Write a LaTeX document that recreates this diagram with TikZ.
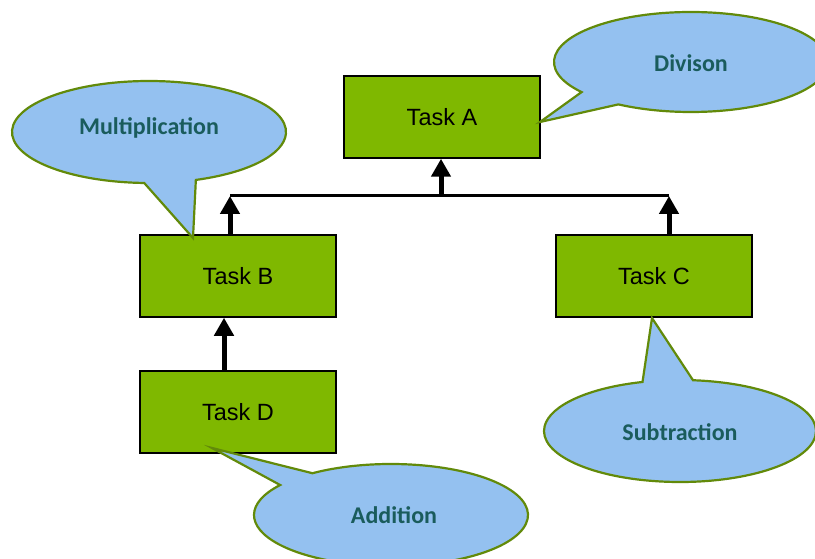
\documentclass[tikz,border=0pt]{standalone}
\usepackage{fontspec}
\setmainfont{Liberation Sans}
\newfontfamily\calibri{Carlito}
\usetikzlibrary{arrows.meta,calc}
\definecolor{boxgreen}{RGB}{127,184,0}
\definecolor{bubblefill}{RGB}{148,193,240}
\definecolor{bubbleline}{RGB}{98,138,10}
\definecolor{bubbletext}{RGB}{26,92,92}
\begin{document}
\begin{tikzpicture}[x=1pt,y=-1pt,
  task/.style={draw=black,line width=1.5pt,fill=boxgreen,minimum width=196pt,minimum height=82pt,inner sep=0pt,font=\fontsize{23.5}{27}\selectfont},
  bubble/.style={draw=bubbleline,line width=2.2pt,fill=bubblefill,line join=miter},
  btext/.style={text=bubbletext,font=\calibri\bfseries\fontsize{24}{28}\selectfont,inner sep=0pt},
  arr/.style={line width=5pt,-{Triangle[width=19pt,length=18pt]}},
  barline/.style={line width=3pt}]
\useasboundingbox (0,0) rectangle (815,559);
\clip (0,0) rectangle (815,559);
% boxes
\node[task] (A) at (442,117) {Task A};
\node[task] (B) at (238,276) {Task B};
\node[task] (C) at (654,276) {Task C};
\node[task] (D) at (238,412) {Task D};
% connectors
\coordinate (barL) at (230,196);
\coordinate (barR) at (669,196);
\coordinate (barM) at (441,196);
\draw[barline] (barL) -- (barR);
\draw[arr] (B.north -| barL) -- (barL);
\draw[arr] (C.north -| barR) -- (barR);
\draw[arr] (barM) -- (A.south -| barM);
\draw[arr] ([xshift=-14pt]D.north) -- ([xshift=-14pt]B.south);
% bubbles
\coordinate (mc) at (149,132);
\coordinate (dc) at (691,62);
\coordinate (sc) at (680,431);
\coordinate (ac) at (391,515);
\coordinate (mtip) at (193,238);
\coordinate (dtip) at (540,122);
\coordinate (stip) at (652,318);
\coordinate (atip) at (212,448);
\path[bubble] ($(mc)+(92:137 and 51)$) arc[start angle=92,end angle=430,x radius=137,y radius=51] -- (mtip) -- cycle;
\path[bubble] ($(dc)+(143:137 and 50)$) arc[start angle=143,end angle=482,x radius=137,y radius=50] -- (dtip) -- cycle;
\path[bubble] ($(sc)+(275.5:136 and 51)$) arc[start angle=275.5,end angle=614,x radius=136,y radius=51] -- (stip) -- cycle;
\path[bubble] ($(ac)+(235:137 and 51)$) arc[start angle=235,end angle=576,x radius=137,y radius=51] -- (atip) -- cycle;
\node[btext] (mt) at (149,128) {Multiplication};
\node[btext] (dt) at (691,63) {Divison};
\node[btext] (st) at (680,432) {Subtraction};
\node[btext] (at) at (394,515) {Addition};
\end{tikzpicture}
\end{document}
